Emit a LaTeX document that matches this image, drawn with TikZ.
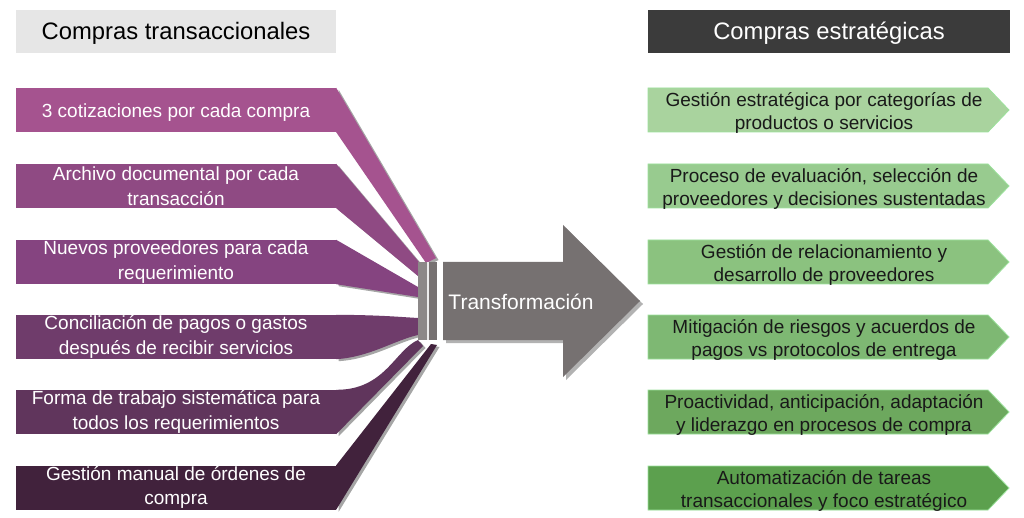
\documentclass[tikz,border=0pt]{standalone}
\usepackage{fontspec}
\setmainfont{Liberation Sans}
\usetikzlibrary{shadows}
\definecolor{hdrlight}{HTML}{E6E6E6}
\definecolor{hdrdark}{HTML}{3B3B3B}
\definecolor{pA}{HTML}{A5538F}
\definecolor{pB}{HTML}{8F4A83}
\definecolor{pC}{HTML}{854480}
\definecolor{pD}{HTML}{6F3C6B}
\definecolor{pE}{HTML}{60355C}
\definecolor{pF}{HTML}{41223C}
\definecolor{gA}{HTML}{A9D39E}
\definecolor{gB}{HTML}{98CB8F}
\definecolor{gC}{HTML}{8BC27F}
\definecolor{gD}{HTML}{7EB873}
\definecolor{gE}{HTML}{6DA85E}
\definecolor{gF}{HTML}{5CA04E}
\definecolor{gborder}{HTML}{9CE29C}
\definecolor{arrowgray}{HTML}{767171}
\definecolor{barlight}{HTML}{8C8888}
\definecolor{bardark}{HTML}{767171}
\tikzset{
  hdr/.style={minimum width=320pt, minimum height=43pt, inner sep=0pt, text height=19pt, text depth=3pt, font=\fontsize{23.8}{27}\selectfont},
  lbox/.style={minimum width=320pt, minimum height=44pt, inner sep=0pt, text=white, align=center, font=\fontsize{19}{24.5}\selectfont},
  rtext/.style={inner sep=0pt, text=black!90, align=center, font=\fontsize{19}{23.5}\selectfont},
  wedgeshadow/.style={drop shadow={shadow xshift=2.5pt, shadow yshift=-2pt, opacity=.35, fill=black}},
  chev/.style={draw=gborder, line width=0.8pt}
}
\begin{document}
\begin{tikzpicture}[x=1pt,y=-1pt]
\useasboundingbox (0,0) rectangle (1024,518);
\fill[white] (0,0) rectangle (1024,518);

% headers
\node[hdr, fill=hdrlight, text=black] (hL) at (176,31.5) {Compras transaccionales};
\node[hdr, minimum width=362pt, fill=hdrdark, text=white] (hR) at (829,31.5) {Compras estratégicas};

% funnel end points
\coordinate (w1a) at (436,258); \coordinate (w1b) at (426,263);
\coordinate (w2a) at (424,268); \coordinate (w2b) at (418,276);
\coordinate (w3a) at (418,287); \coordinate (w3b) at (418,297);
\coordinate (w4a) at (418,318); \coordinate (w4b) at (418,335);
\coordinate (w5a) at (418,340); \coordinate (w5b) at (423,346);
\coordinate (w6a) at (431,344); \coordinate (w6b) at (437,345);

% left boxes (nodes first for anchors)
\path node[lbox] (L1) at (176,110) {}
      node[lbox] (L2) at (176,186) {}
      node[lbox] (L3) at (176,262) {}
      node[lbox] (L4) at (176,337) {}
      node[lbox] (L5) at (176,412) {}
      node[lbox] (L6) at (176,487.5) {};

% wedges
\fill[pA, wedgeshadow] (L1.north east) -- (w1a) -- (w1b) -- (L1.south east) -- cycle;
\fill[pB, wedgeshadow] (L2.north east) -- (w2a) -- (w2b) -- (L2.south east) -- cycle;
\fill[pC, wedgeshadow] (L3.north east) -- (w3a) -- (w3b) -- (L3.south east) -- cycle;
\fill[pD, wedgeshadow] (L4.north east) .. controls (380,315) and (400,317) .. (w4a) -- (w4b) .. controls (395,340) and (370,357) .. (L4.south east) -- cycle;
\fill[pE, wedgeshadow] (L5.north east) .. controls (385,390) and (395,350) .. (w5a) -- (w5b) -- (L5.south east) -- cycle;
\fill[pF, wedgeshadow] (L6.north east) -- (w6a) -- (w6b) -- (L6.south east) -- cycle;

% left boxes with text
\node[lbox, fill=pA, text height=18pt, text depth=2pt] at (L1) {3 cotizaciones por cada compra};
\node[lbox, fill=pB] at (L2) {Archivo documental por cada\\transacción};
\node[lbox, fill=pC] at (L3) {Nuevos proveedores para cada\\requerimiento};
\node[lbox, fill=pD] at (L4) {Conciliación de pagos o gastos\\después de recibir servicios};
\node[lbox, fill=pE] at (L5) {Forma de trabajo sistemática para\\todos los requerimientos};
\node[lbox, fill=pF] at (L6) {Gestión manual de órdenes de\\compra};

% funnel bars
\fill[barlight] (418,262) rectangle (427,340);
\fill[white!85!gray] (427,262) rectangle (429,340);
\fill[bardark] (429,262) rectangle (437,340);

% big arrow
\fill[arrowgray, drop shadow={shadow xshift=3pt, shadow yshift=-3pt, opacity=.3, fill=black}]
  (443,262) -- (563,262) -- (563,225) -- (640,301) -- (563,377) -- (563,340) -- (443,340) -- cycle;
\node[text=white, inner sep=0pt, font=\fontsize{21}{25}\selectfont] (T) at (521,302) {Transformación};

% right chevrons
\foreach \i/\t/\c/\txt in {
  1/88/gA/{Gestión estratégica por categorías de\\productos o servicios},
  2/164/gB/{Proceso de evaluación, selección de\\proveedores y decisiones sustentadas},
  3/240/gC/{Gestión de relacionamiento y\\desarrollo de proveedores},
  4/315/gD/{Mitigación de riesgos y acuerdos de\\pagos vs protocolos de entrega},
  5/390/gE/{Proactividad, anticipación, adaptación\\y liderazgo en procesos de compra},
  6/466/gF/{Automatización de tareas\\transaccionales y foco estratégico}} {
  \filldraw[chev, fill=\c] (648,\t) -- (988,\t) -- (1009,\t+22) -- (988,\t+44) -- (648,\t+44) -- cycle;
  \node[rtext] (R\i) at (824,\t+25) {\txt};
}
\end{tikzpicture}
\end{document}
